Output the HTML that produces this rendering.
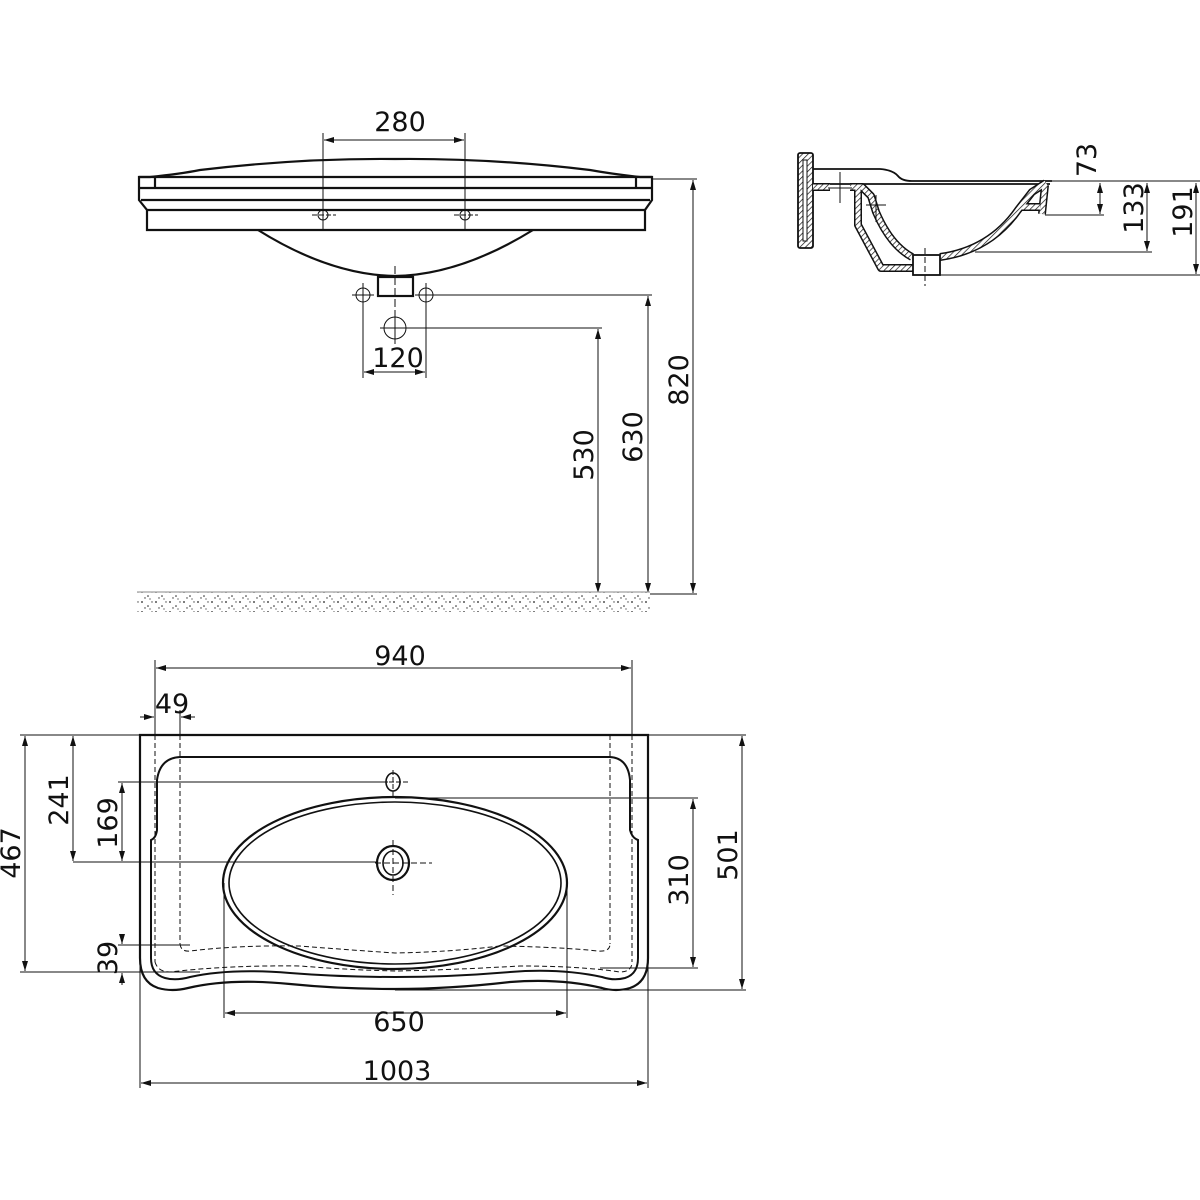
<!DOCTYPE html>
<html><head><meta charset="utf-8"><style>
html,body{margin:0;padding:0;background:#fff;}
svg{display:block;}
text{font-family:"DejaVu Sans","Liberation Sans",sans-serif;font-size:27px;fill:#111;}
</style></head><body>
<svg width="1200" height="1200" viewBox="0 0 1200 1200" xmlns="http://www.w3.org/2000/svg">
<defs>
<marker id="a" viewBox="0 0 10 6" refX="10" refY="3" markerWidth="10" markerHeight="6" orient="auto-start-reverse" markerUnits="userSpaceOnUse"><path d="M0,0 L10,3 L0,6 z" fill="#111"/></marker>
<pattern id="h" width="4" height="4" patternUnits="userSpaceOnUse" patternTransform="rotate(45)"><rect width="4" height="4" fill="#fff"/><line x1="0" y1="0" x2="0" y2="4" stroke="#111" stroke-width="1.4"/></pattern>
<pattern id="sp" width="14" height="10" patternUnits="userSpaceOnUse"><rect width="14" height="10" fill="#fff"/><circle cx="2" cy="2" r="0.9" fill="#222"/><circle cx="8" cy="6" r="0.8" fill="#222"/><circle cx="12" cy="2" r="0.7" fill="#444"/><circle cx="5" cy="8" r="0.7" fill="#333"/><circle cx="10" cy="9" r="0.6" fill="#222"/></pattern>
</defs>
<g fill="none" stroke="#111" stroke-width="1">

<!-- FRONT ELEVATION -->
<g stroke-width="2.2">
<path d="M139,177 L139,200 L147,210 L147,230 L645,230 L645,210 L652,200 L652,177 Z"/>
<path d="M139,177 L150,177 Q180,174 200,170 Q300,158 395,159 Q490,158 590,170 Q612,174 640,177 L652,177"/>
<line x1="139" y1="188" x2="652" y2="188"/>
<line x1="141" y1="200" x2="650" y2="200"/>
<line x1="147" y1="210" x2="645" y2="210"/>
<line x1="155" y1="177" x2="155" y2="188"/>
<line x1="636" y1="177" x2="636" y2="188"/>
<path d="M258,230 Q330,275 395,276 Q460,275 533,230"/>
<rect x="378" y="277" width="35" height="19"/>
</g>
<line x1="395" y1="266" x2="395" y2="315" stroke-dasharray="8,3"/>
<circle cx="323" cy="215" r="5"/><line x1="312" y1="215" x2="336" y2="215" stroke-dasharray="5,2"/>
<circle cx="465" cy="215" r="5"/><line x1="454" y1="215" x2="478" y2="215" stroke-dasharray="5,2"/>
<line x1="323" y1="133" x2="323" y2="230"/><line x1="465" y1="133" x2="465" y2="230"/>
<line x1="324" y1="140" x2="464" y2="140" marker-start="url(#a)" marker-end="url(#a)"/>
<text x="400" y="131" text-anchor="middle" stroke="none">280</text>
<circle cx="363" cy="295" r="7"/><line x1="352" y1="295" x2="374" y2="295"/><line x1="363" y1="283" x2="363" y2="307"/>
<circle cx="426" cy="295" r="7"/><line x1="415" y1="295" x2="437" y2="295"/><line x1="426" y1="283" x2="426" y2="307"/>
<circle cx="395" cy="328" r="11"/><line x1="380" y1="328" x2="410" y2="328"/><line x1="395" y1="312" x2="395" y2="344"/>
<line x1="363" y1="302" x2="363" y2="378"/><line x1="426" y1="302" x2="426" y2="378"/>
<line x1="364" y1="372" x2="425" y2="372" marker-start="url(#a)" marker-end="url(#a)"/>
<text x="398" y="367" text-anchor="middle" stroke="none">120</text>
<line x1="652" y1="179" x2="697" y2="179"/>
<line x1="693" y1="180" x2="693" y2="593" marker-start="url(#a)" marker-end="url(#a)"/>
<line x1="433" y1="295" x2="652" y2="295"/>
<line x1="648" y1="296" x2="648" y2="593" marker-start="url(#a)" marker-end="url(#a)"/>
<line x1="406" y1="328" x2="602" y2="328"/>
<line x1="598" y1="329" x2="598" y2="593" marker-start="url(#a)" marker-end="url(#a)"/>
<line x1="600" y1="594" x2="697" y2="594"/>
<text transform="translate(688,380) rotate(-90)" text-anchor="middle" stroke="none">820</text>
<text transform="translate(642,437) rotate(-90)" text-anchor="middle" stroke="none">630</text>
<text transform="translate(593,455) rotate(-90)" text-anchor="middle" stroke="none">530</text>
<rect x="137" y="592" width="513" height="20" fill="url(#sp)" stroke="none"/>
<line x1="137" y1="592" x2="650" y2="592" stroke="#888"/>

<!-- SIDE SECTION -->
<rect x="798" y="153" width="15" height="95" rx="2" fill="url(#h)" stroke-width="1.8"/>
<rect x="803" y="160" width="4" height="81" fill="#fff" stroke-width="1"/>
<path d="M813,169 L880,169 Q893,170 898,176 Q902,181 912,181 L1052,181" stroke-width="1.8"/>
<line x1="813" y1="184" x2="1050" y2="184" stroke-width="1.8"/>
<!-- hatched thin walls -->
<g stroke-linejoin="round" stroke-linecap="butt">
<g stroke="#111" stroke-width="8">
<path d="M813,187 L830,187"/>
<path d="M850,187 L862,187 L871,196 L876,212 Q890,245 912,257"/>
<path d="M858,187 L858,225 L881,268 L913,268"/>
<path d="M940,257 Q990,250 1018,210 L1032,192 L1046,183"/>
<path d="M1020,207 L1040,207"/>
<path d="M1045,185 L1042,214"/>
</g>
<g stroke="url(#h)" stroke-width="5">
<path d="M813,187 L830,187"/>
<path d="M850,187 L862,187 L871,196 L876,212 Q890,245 912,257"/>
<path d="M858,187 L858,225 L881,268 L913,268"/>
<path d="M940,257 Q990,250 1018,210 L1032,192 L1046,183"/>
<path d="M1020,207 L1040,207"/>
<path d="M1045,185 L1042,214"/>
</g>
</g>
<rect x="913" y="255" width="27" height="20" fill="#fff" stroke-width="1.8"/>
<line x1="840" y1="172" x2="840" y2="203"/><line x1="828" y1="188" x2="852" y2="188"/>
<line x1="876" y1="195" x2="876" y2="222"/><line x1="866" y1="205" x2="886" y2="205"/>
<line x1="925" y1="248" x2="925" y2="286" stroke-dasharray="6,3"/>
<line x1="1052" y1="181" x2="1200" y2="181"/>
<line x1="1045" y1="215" x2="1104" y2="215"/>
<line x1="1100" y1="183" x2="1100" y2="214" marker-start="url(#a)" marker-end="url(#a)"/>
<line x1="975" y1="252" x2="1152" y2="252"/>
<line x1="1147" y1="183" x2="1147" y2="251" marker-start="url(#a)" marker-end="url(#a)"/>
<line x1="938" y1="275" x2="1200" y2="275"/>
<line x1="1196" y1="183" x2="1196" y2="274" marker-start="url(#a)" marker-end="url(#a)"/>
<text transform="translate(1096,160) rotate(-90)" text-anchor="middle" stroke="none">73</text>
<text transform="translate(1143,208) rotate(-90)" text-anchor="middle" stroke="none">133</text>
<text transform="translate(1192,212) rotate(-90)" text-anchor="middle" stroke="none">191</text>

<!-- PLAN VIEW -->
<g stroke-width="2.2">
<path d="M140,735 L648,735 L648,958 Q648,982 630,988 Q616,992 602,988 Q560,978 510,982 Q450,989 395,989 Q340,989 290,984 Q230,978 188,988 Q172,992 158,988 Q140,982 140,958 Z"/>
<path d="M180,757 L610,757 Q628,758 630,780 L630,830 Q632,838 638,840 L638,958 Q638,974 625,978 Q614,981 602,977 Q560,968 510,972 Q450,977 395,977 Q340,977 290,973 Q230,968 190,977 Q176,981 165,978 Q151,974 151,958 L151,840 Q156,838 157,830 L157,780 Q160,758 180,757 Z" stroke-width="2"/>
<ellipse cx="395" cy="883" rx="172" ry="86"/>
<ellipse cx="395" cy="883" rx="166" ry="81" stroke-width="1.6"/>
<ellipse cx="393" cy="863" rx="16" ry="17"/>
<ellipse cx="393" cy="863" rx="10" ry="12" stroke-width="1.6"/>
<ellipse cx="393" cy="782" rx="7" ry="9" stroke-width="1.6"/>
</g>
<line x1="393" y1="770" x2="393" y2="797" stroke-dasharray="5,2"/><line x1="382" y1="782" x2="410" y2="782" stroke-dasharray="5,2"/>
<line x1="393" y1="840" x2="393" y2="895" stroke-dasharray="6,3"/><line x1="375" y1="863" x2="432" y2="863" stroke-dasharray="6,3"/>
<g stroke-dasharray="5,3">
<line x1="155" y1="735" x2="155" y2="962"/>
<line x1="180" y1="735" x2="180" y2="944"/>
<line x1="610" y1="735" x2="610" y2="944"/>
<line x1="632" y1="735" x2="632" y2="962"/>
<path d="M180,944 Q181,952 190,951 Q240,945 300,946 Q350,950 395,953 Q450,952 500,946 Q560,947 598,951 Q610,952 610,944"/>
<path d="M155,962 Q158,972 170,972 Q230,965 300,966 Q350,970 395,971 Q450,970 520,966 Q580,966 620,972 Q632,972 632,962"/>
</g>
<line x1="155" y1="660" x2="155" y2="735"/><line x1="632" y1="660" x2="632" y2="735"/>
<line x1="156" y1="668" x2="631" y2="668" marker-start="url(#a)" marker-end="url(#a)"/>
<text x="400" y="665" text-anchor="middle" stroke="none">940</text>
<line x1="180" y1="710" x2="180" y2="735"/>
<line x1="140" y1="717" x2="154" y2="717" marker-end="url(#a)"/><line x1="195" y1="717" x2="181" y2="717" marker-end="url(#a)"/>
<text x="172" y="713" text-anchor="middle" stroke="none">49</text>
<line x1="20" y1="735" x2="140" y2="735"/>
<line x1="25" y1="736" x2="25" y2="971" marker-start="url(#a)" marker-end="url(#a)"/>
<line x1="20" y1="972" x2="200" y2="972"/>
<line x1="73" y1="736" x2="73" y2="861" marker-start="url(#a)" marker-end="url(#a)"/>
<line x1="73" y1="862" x2="377" y2="862"/>
<line x1="118" y1="782" x2="388" y2="782"/>
<line x1="122" y1="783" x2="122" y2="861" marker-start="url(#a)" marker-end="url(#a)"/>
<line x1="118" y1="945" x2="190" y2="945"/>
<line x1="122" y1="935" x2="122" y2="944" marker-end="url(#a)"/>
<line x1="122" y1="985" x2="122" y2="973" marker-end="url(#a)"/>
<text transform="translate(20,853) rotate(-90)" text-anchor="middle" stroke="none">467</text>
<text transform="translate(68,800) rotate(-90)" text-anchor="middle" stroke="none">241</text>
<text transform="translate(117,823) rotate(-90)" text-anchor="middle" stroke="none">169</text>
<text transform="translate(117,958) rotate(-90)" text-anchor="middle" stroke="none">39</text>
<line x1="395" y1="798" x2="698" y2="798"/>
<line x1="693" y1="799" x2="693" y2="967" marker-start="url(#a)" marker-end="url(#a)"/>
<line x1="600" y1="968" x2="698" y2="968"/>
<line x1="648" y1="735" x2="746" y2="735"/>
<line x1="742" y1="736" x2="742" y2="989" marker-start="url(#a)" marker-end="url(#a)"/>
<line x1="395" y1="990" x2="746" y2="990"/>
<text transform="translate(688,880) rotate(-90)" text-anchor="middle" stroke="none">310</text>
<text transform="translate(737,855) rotate(-90)" text-anchor="middle" stroke="none">501</text>
<line x1="224" y1="883" x2="224" y2="1018"/><line x1="567" y1="883" x2="567" y2="1018"/>
<line x1="225" y1="1013" x2="566" y2="1013" marker-start="url(#a)" marker-end="url(#a)"/>
<text x="399" y="1031" text-anchor="middle" stroke="none">650</text>
<line x1="140" y1="960" x2="140" y2="1088"/><line x1="648" y1="960" x2="648" y2="1088"/>
<line x1="141" y1="1083" x2="647" y2="1083" marker-start="url(#a)" marker-end="url(#a)"/>
<text x="397" y="1080" text-anchor="middle" stroke="none">1003</text>
</g>
</svg>
</body></html>
